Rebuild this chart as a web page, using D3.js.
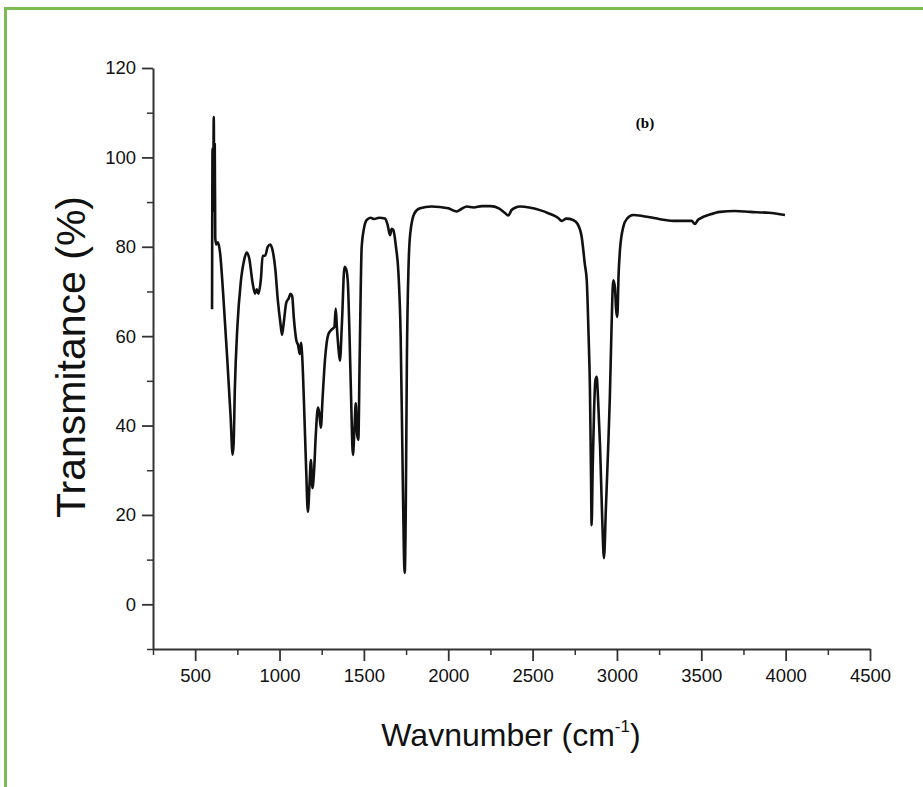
<!DOCTYPE html>
<html>
<head>
<meta charset="utf-8">
<script src="https://cdn.jsdelivr.net/npm/d3@7"></script>
<style>
  body { margin: 0; background: #fff; }
  svg { display: block; }
  .tick text { font-family: "Liberation Sans", Arial, sans-serif; }
</style>
</head>
<body>
<script>
// FTIR spectrum (b)
const wavenumber = [
  600, 603, 607, 610, 613, 616, 619, 625, 635, 648, 665, 690, 710, 722, 728, 735, 750, 770, 790, 805,
  820, 840, 855, 865, 875, 890, 900, 915, 930, 945, 960, 975, 990, 1005, 1015, 1025, 1040, 1055, 1065, 1075,
  1085, 1100, 1110, 1120, 1127, 1135, 1145, 1158, 1168, 1178, 1186, 1195, 1205, 1215, 1228, 1235, 1245, 1255, 1270, 1290,
  1310, 1325, 1333, 1340, 1350, 1358, 1370, 1385, 1395, 1405, 1415, 1425, 1435, 1445, 1452, 1460, 1467, 1475, 1487, 1500,
  1517, 1540, 1560, 1590, 1625, 1640, 1655, 1665, 1675, 1690, 1705, 1718, 1728, 1737, 1742, 1748, 1755, 1765, 1775, 1800,
  1833, 1900, 2000, 2050, 2080, 2110, 2150, 2200, 2250, 2300, 2335, 2356, 2375, 2400, 2425, 2480, 2544, 2600, 2650, 2673,
  2700, 2740, 2765, 2791, 2810, 2821, 2832, 2840, 2846, 2850, 2856, 2864, 2872, 2880, 2888, 2900, 2912, 2923, 2935, 2948,
  2958, 2968, 2978, 2988, 2995, 3002, 3010, 3018, 3038, 3060, 3097, 3150, 3196, 3250, 3334, 3400, 3443, 3462, 3480, 3492,
  3550, 3611, 3700, 3789, 3900, 3996
];
const transmittance = [
  66, 102, 88, 109, 95, 103, 82, 80.5, 81, 78.5, 70, 55, 42, 33.5, 36, 48, 62, 72, 77, 78.7,
  77.5, 72, 69.5, 70.5, 69.5, 73, 78, 78, 80, 80.5, 79, 75, 68, 63, 60.3, 63, 67.5, 68.5, 69.5, 69,
  64, 59, 58, 56, 58.5, 55, 45, 30, 20.7, 27, 32.3, 26, 30, 38, 44, 43, 39.5, 46, 55, 60.5,
  61.5, 62, 66.2, 62, 57, 54.5, 63, 75.5, 75, 72, 60, 45, 33.4, 40, 45, 38, 36.8, 55, 80, 84,
  86, 86.5, 86.2, 86.5, 86.3, 85, 82.6, 84, 83.7, 80, 74, 60, 35, 12, 7, 20, 55, 76, 83, 87.5,
  88.6, 89, 88.6, 87.9, 88.5, 89, 88.8, 89.1, 89.1, 88.6, 87.6, 87, 88.2, 88.8, 89, 88.8, 88.2, 87.4, 86.5, 85.8,
  86.3, 86, 85.2, 82.2, 76, 72.5, 60, 48, 30, 17.7, 30, 42.8, 50, 50.9, 46, 35.3, 20, 10.3, 22, 35,
  46.4, 62, 72.5, 71, 66, 64.3, 74, 79.3, 84.5, 86.3, 87.1, 86.9, 86.6, 86.2, 85.8, 85.8, 85.8, 85.1, 86, 86.3,
  87.2, 87.8, 88, 87.8, 87.6, 87.1
];

const xMajor = [500, 1000, 1500, 2000, 2500, 3000, 3500, 4000, 4500];
const xMinor = [250, 750, 1250, 1750, 2250, 2750, 3250, 3750, 4250];
const yMajor = [0, 20, 40, 60, 80, 100, 120];
const yMinor = [-10, 10, 30, 50, 70, 90, 110];

const width = 923;
const height = 787;

const svg = d3.select("body").append("svg")
  .attr("width", width)
  .attr("height", height);

// green frame, runs off the right and bottom edges
svg.append("rect")
  .attr("x", 5.5).attr("y", 8.5)
  .attr("width", 940).attr("height", 800)
  .attr("fill", "none")
  .attr("stroke", "#7dbb55")
  .attr("stroke-width", 3);

const x = d3.scaleLinear().domain([250, 4500]).range([153, 870]);
const y = d3.scaleLinear().domain([-10, 120]).range([649, 68]);

const axisColor = "#333";
const fmt = d3.format("d");

// minor ticks first
svg.append("g")
  .attr("transform", "translate(0,649)")
  .call(d3.axisBottom(x).tickValues(xMinor).tickSize(6).tickFormat(""))
  .call(g => g.select(".domain").remove())
  .call(g => g.selectAll("line").attr("stroke", axisColor).attr("stroke-width", 1.5));

svg.append("g")
  .attr("transform", "translate(153,0)")
  .call(d3.axisLeft(y).tickValues(yMinor).tickSize(6).tickFormat(""))
  .call(g => g.select(".domain").remove())
  .call(g => g.selectAll("line").attr("stroke", axisColor).attr("stroke-width", 1.5));

// major ticks + labels
svg.append("g")
  .attr("transform", "translate(0,649)")
  .call(d3.axisBottom(x).tickValues(xMajor).tickFormat(fmt).tickSize(12).tickSizeOuter(0).tickPadding(8))
  .call(g => g.select(".domain").attr("stroke", axisColor).attr("stroke-width", 2))
  .call(g => g.selectAll("line").attr("stroke", axisColor).attr("stroke-width", 1.8))
  .call(g => g.selectAll("text").attr("font-size", 18.5).attr("fill", "#111"));

svg.append("g")
  .attr("transform", "translate(153,0)")
  .call(d3.axisLeft(y).tickValues(yMajor).tickFormat(fmt).tickSize(11).tickSizeOuter(0).tickPadding(6))
  .call(g => g.select(".domain").attr("stroke", axisColor).attr("stroke-width", 2))
  .call(g => g.selectAll("line").attr("stroke", axisColor).attr("stroke-width", 1.8))
  .call(g => g.selectAll("text").attr("font-size", 18.5).attr("fill", "#111"));

// spectrum line
const points = wavenumber.map((w, i) => [w, transmittance[i]]);
const line = d3.line()
  .x(d => x(d[0]))
  .y(d => y(d[1]))
  .curve(d3.curveMonotoneX);

svg.append("path")
  .datum(points)
  .attr("d", line)
  .attr("fill", "none")
  .attr("stroke", "#111")
  .attr("stroke-width", 2.6)
  .attr("stroke-linejoin", "round");

// panel label
svg.append("text")
  .attr("x", 645).attr("y", 128)
  .attr("text-anchor", "middle")
  .attr("font-family", "'Liberation Serif', 'Times New Roman', serif")
  .attr("font-weight", "bold")
  .attr("font-size", 15)
  .text("(b)");

// axis titles
const xTitle = svg.append("text")
  .attr("x", 511).attr("y", 746)
  .attr("text-anchor", "middle")
  .attr("font-family", "'Liberation Sans', Arial, sans-serif")
  .attr("font-size", 32)
  .attr("fill", "#111");
xTitle.append("tspan").text("Wavnumber (cm");
xTitle.append("tspan").attr("font-size", 17).attr("dy", -14).text("-1");
xTitle.append("tspan").attr("dy", 14).text(")");

svg.append("text")
  .attr("transform", "translate(85,357) rotate(-90)")
  .attr("text-anchor", "middle")
  .attr("font-family", "'Liberation Sans', Arial, sans-serif")
  .attr("font-size", 41)
  .attr("fill", "#111")
  .text("Transmitance (%)");
</script>
</body>
</html>
